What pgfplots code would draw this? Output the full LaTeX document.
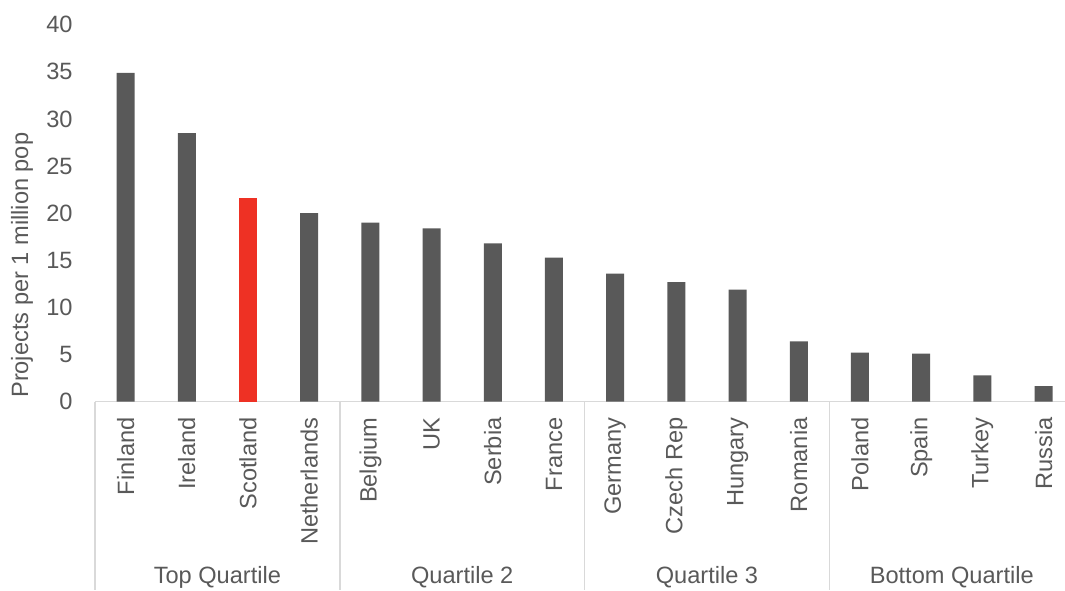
\documentclass[border=0pt]{standalone}
\usepackage{pgfplots}
\pgfplotsset{compat=1.18}
\usepackage{fontspec}
\setmainfont{Liberation Sans}
\definecolor{bargray}{HTML}{595959}
\definecolor{barred}{HTML}{EE3124}
\definecolor{txt}{HTML}{595959}
\definecolor{sepc}{HTML}{D9D9D9}
\begin{document}
\begin{tikzpicture}[font=\fontsize{11.8}{14}\selectfont]
\path[use as bounding box] (-47.5pt,-94.25pt) rectangle (485pt,200.85pt);
\begin{axis}[
  at={(0,0)}, anchor=south west,
  scale only axis, width=485pt, height=188.5pt,
  xmin=-0.5, xmax=15.35, ymin=0, ymax=40,
  ytick={0,5,...,40},
  xtick={0,...,15},
  xticklabels={Finland,Ireland,Scotland,Netherlands,Belgium,UK,Serbia,France,Germany,Czech Rep,Hungary,Romania,Poland,Spain,Turkey,Russia},
  xticklabel style={yshift=-7.75pt, rotate=90, anchor=east, inner sep=0pt, text=txt},
  yticklabel style={inner sep=0pt, xshift=-11pt, text=txt},
  /pgf/number format/assume math mode=true,
  axis x line*=bottom,
  axis y line*=left,
  x axis line style={draw=sepc, line width=0.75pt, -},
  y axis line style={draw=none},
  major tick length=0pt,
  tick style={draw=none},
  ybar, bar width=9pt, bar shift=0pt,
  clip=false,
]
\addplot[fill=bargray, draw=none] coordinates {
 (0,34.9) (1,28.5) (3,20.0) (4,19.0) (5,18.4) (6,16.8) (7,15.3)
 (8,13.6) (9,12.7) (10,11.9) (11,6.4) (12,5.2) (13,5.1) (14,2.8) (15,1.65)
};
\addplot[fill=barred, draw=none] coordinates {(2,21.6)};
\draw[sepc, line width=0.75pt] (axis cs:-0.5,0) -- (axis cs:-0.5,-20);
\draw[sepc, line width=0.75pt] (axis cs:3.5,0) -- (axis cs:3.5,-20);
\draw[sepc, line width=0.75pt] (axis cs:7.5,0) -- (axis cs:7.5,-20);
\draw[sepc, line width=0.75pt] (axis cs:11.5,0) -- (axis cs:11.5,-20);
\node[text=txt] at (axis cs:1.5,-18.62) {Top Quartile};
\node[text=txt] at (axis cs:5.5,-18.62) {Quartile 2};
\node[text=txt] at (axis cs:9.5,-18.62) {Quartile 3};
\node[text=txt] at (axis cs:13.5,-18.62) {Bottom Quartile};
\node[rotate=90, text=txt] at (rel axis cs:-0.0753,0.362) {Projects per 1 million pop};
\end{axis}
\end{tikzpicture}
\end{document}
